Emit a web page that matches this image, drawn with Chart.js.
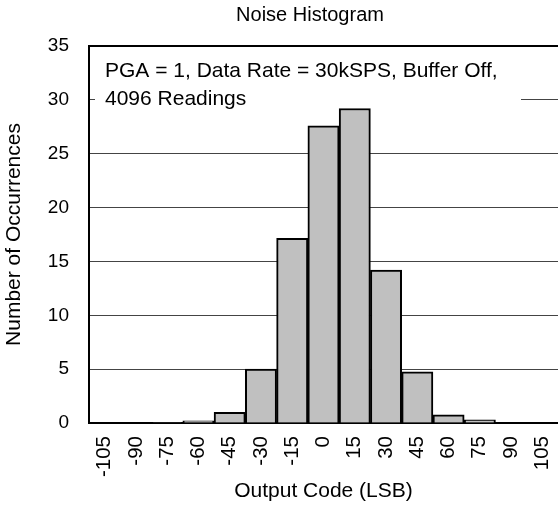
<!DOCTYPE html>
<html>
<head>
<meta charset="utf-8">
<script src="https://cdn.jsdelivr.net/npm/chart.js@4"></script>
<style>
    html, body { margin: 0; padding: 0; background: #fff; }
    #noiseChart { display: block; }
</style>
</head>
<body>
<canvas id="noiseChart" width="558" height="506"></canvas>
<script>
const codeLabels = ["-105", "-90", "-75", "-60", "-45", "-30", "-15", "0", "15", "30", "45", "60", "75", "90", "105"];
const occurrences = [0, 0, 0.05, 0.2, 1.0, 5.0, 17.15, 27.6, 29.2, 14.2, 4.75, 0.75, 0.3, 0, 0];
const yTicks = [0, 5, 10, 15, 20, 25, 30, 35];
const noteLines = ["PGA = 1, Data Rate = 30kSPS, Buffer Off,", "4096 Readings"];
const chartTitle = "Noise Histogram";

const FONT = "'Liberation Sans', Arial, sans-serif";

// note box goes under the bars but over the grid
const notePlugin = {
    id: "note",
    beforeDatasetsDraw(chart) {
        const c = chart.ctx;
        const area = chart.chartArea;
        c.save();
        c.fillStyle = "#fff";
        c.fillRect(area.left + 6, area.top + 4, 426, 64);
        c.fillStyle = "#000";
        c.font = "21px " + FONT;
        c.textAlign = "left";
        c.textBaseline = "alphabetic";
        c.fillText(noteLines[0], area.left + 16, 77);
        c.fillText(noteLines[1], area.left + 16, 105);
        c.restore();
    },
    afterDatasetsDraw(chart) {
        const c = chart.ctx;
        const area = chart.chartArea;
        c.save();
        // top border
        c.strokeStyle = "#000";
        c.lineWidth = 2;
        c.beginPath();
        c.moveTo(area.left, area.top);
        c.lineTo(area.right, area.top);
        c.stroke();
        // title
        c.fillStyle = "#000";
        c.font = "20px " + FONT;
        c.textAlign = "center";
        c.fillText(chartTitle, 310, 21);
        c.restore();
    }
};

new Chart(document.getElementById("noiseChart").getContext("2d"), {
    type: "bar",
    data: {
        labels: codeLabels,
        datasets: [{
            label: "Occurrences",
            data: occurrences,
            backgroundColor: "#c0c0c0",
            borderColor: "#000",
            borderWidth: 2,
            barPercentage: 1,
            categoryPercentage: 1
        }]
    },
    options: {
        responsive: false,
        animation: false,
        layout: { padding: { top: 46, right: 0, left: 0, bottom: 0 } },
        plugins: {
            legend: { display: false },
            title: { display: false },
            tooltip: { enabled: false }
        },
        scales: {
            x: {
                grid: { display: false, drawTicks: false },
                border: { color: "#000", width: 2 },
                ticks: {
                    minRotation: 90,
                    maxRotation: 90,
                    padding: 13,
                    color: "#000",
                    font: { family: FONT, size: 20.5 }
                },
                title: {
                    display: true,
                    text: "Output Code (LSB)",
                    color: "#000",
                    font: { family: FONT, size: 21 },
                    padding: { top: 4, bottom: 2 }
                },
                afterFit(scale) {
                    scale.height = 83;
                    scale.paddingLeft = 0;
                    scale.paddingRight = 0;
                }
            },
            y: {
                min: 0,
                max: 35,
                afterBuildTicks(scale) { scale.ticks = yTicks.map(v => ({ value: v })); },
                grid: { color: "#444", lineWidth: 1, drawTicks: false },
                border: { color: "#000", width: 2 },
                ticks: {
                    padding: 20,
                    color: "#000",
                    font: { family: FONT, size: 19 }
                },
                title: {
                    display: true,
                    text: "Number of Occurrences",
                    color: "#000",
                    font: { family: FONT, size: 21 },
                    padding: { top: 2, bottom: 4 }
                },
                afterFit(scale) {
                    scale.width = 89;
                    scale.paddingTop = 0;
                    scale.paddingBottom = 0;
                }
            }
        }
    },
    plugins: [notePlugin]
});
</script>
</body>
</html>
